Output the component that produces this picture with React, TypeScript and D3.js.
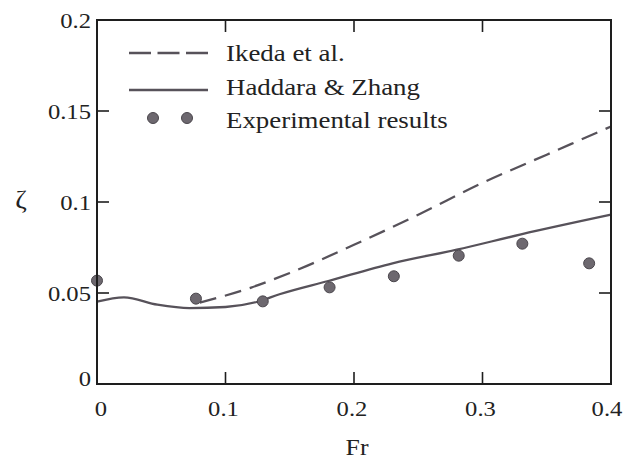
import React from "react";
import * as d3 from "d3";

const W = 636;
const H = 459;

const xTicks = [0, 0.1, 0.2, 0.3, 0.4];
const xTickLabels = ["0", "0.1", "0.2", "0.3", "0.4"];
const yTicks = [0, 0.05, 0.1, 0.15, 0.2];
const yTickLabels = ["0", "0.05", "0.1", "0.15", "0.2"];

const seriesNames = ["Ikeda et al.", "Haddara & Zhang", "Experimental results"];

const ikedaFr = [0.08, 0.12, 0.15, 0.2, 0.25, 0.3, 0.35, 0.4];
const ikedaZeta = [0.0447, 0.053, 0.061, 0.0765, 0.093, 0.1105, 0.126, 0.1415];

const haddaraFr = [0, 0.021, 0.047, 0.072, 0.1, 0.125, 0.142, 0.18, 0.23, 0.28, 0.33, 0.4];
const haddaraZeta = [0.0452, 0.0476, 0.0436, 0.0417, 0.0423, 0.0452, 0.0493, 0.0566, 0.0663, 0.0738, 0.0822, 0.093];

const expFr = [0, 0.077, 0.129, 0.181, 0.231, 0.2815, 0.331, 0.383];
const expZeta = [0.0568, 0.0469, 0.0454, 0.0531, 0.0592, 0.0705, 0.0771, 0.0663];

const FONT = "Liberation Serif";
const SX = 1.12;

function T({ x, y, size, anchor = "start", children, fill = "#222" }: any) {
  return (
    <text
      transform={`translate(${x},${y}) scale(${SX},1)`}
      textAnchor={anchor}
      style={{ fontFamily: FONT, fontSize: size + "px" }}
      fill={fill}
    >
      {children}
    </text>
  );
}

export default function App() {
  const left = 97, right = 611, top = 20, bottom = 384;
  const x = d3.scaleLinear().domain([0, 0.4]).range([left, right]);
  const y = d3.scaleLinear().domain([0, 0.2]).range([bottom, top]);

  const line = d3
    .line<[number, number]>()
    .x((d) => x(d[0]))
    .y((d) => y(d[1]))
    .curve(d3.curveMonotoneX);

  const ikeda: [number, number][] = ikedaFr.map((f, i) => [f, ikedaZeta[i]]);
  const haddara: [number, number][] = haddaraFr.map((f, i) => [f, haddaraZeta[i]]);
  const exp: [number, number][] = expFr.map((f, i) => [f, expZeta[i]]);

  const tickLen = 12;
  const axisColor = "#1e1e1e";
  const lineColor = "#57525a";
  const dotFill = "#6d686f";
  const dotStroke = "#4a464c";

  const innerX = xTicks.filter((t) => t > 0 && t < 0.4);
  const innerY = yTicks.filter((t) => t > 0 && t < 0.2);

  return (
    <svg
      width={W}
      height={H}
      style={{ position: "absolute", left: 0, top: 0, background: "#fff" }}
    >
      <rect x={0} y={0} width={W} height={H} fill="#fff" />

      <path d={line(haddara) || ""} fill="none" stroke={lineColor} strokeWidth={2.3} />
      <path
        d={line(ikeda) || ""}
        fill="none"
        stroke={lineColor}
        strokeWidth={2.3}
        strokeDasharray="17 9"
      />
      {exp.map((d, i) => (
        <circle
          key={i}
          cx={x(d[0])}
          cy={y(d[1])}
          r={5.5}
          fill={dotFill}
          stroke={dotStroke}
          strokeWidth={1}
        />
      ))}

      <rect
        x={left}
        y={top}
        width={right - left}
        height={bottom - top}
        fill="none"
        stroke={axisColor}
        strokeWidth={2}
      />
      {innerX.map((t) => (
        <g key={"xt" + t}>
          <line x1={x(t)} x2={x(t)} y1={bottom} y2={bottom - tickLen} stroke={axisColor} strokeWidth={1.6} />
          <line x1={x(t)} x2={x(t)} y1={top} y2={top + tickLen} stroke={axisColor} strokeWidth={1.6} />
        </g>
      ))}
      {innerY.map((t) => (
        <g key={"yt" + t}>
          <line x1={left} x2={left + tickLen} y1={y(t)} y2={y(t)} stroke={axisColor} strokeWidth={1.6} />
          <line x1={right} x2={right - tickLen} y1={y(t)} y2={y(t)} stroke={axisColor} strokeWidth={1.6} />
        </g>
      ))}

      {xTicks.map((t, i) => (
        <T key={"xl" + t} x={x(t) + (i === 0 ? 4 : i === 4 ? -4 : -2)} y={416} size={22} anchor="middle">
          {xTickLabels[i]}
        </T>
      ))}
      {yTicks.map((t, i) => (
        <T key={"yl" + t} x={91} y={y(t) + 7.5 - (i === 0 ? 6 : 0)} size={22} anchor="end">
          {yTickLabels[i]}
        </T>
      ))}

      <T x={357} y={455} size={23} anchor="middle">Fr</T>
      <T x={21} y={208} size={25} anchor="middle">ζ</T>

      <line x1={129} x2={208} y1={53} y2={53} stroke={lineColor} strokeWidth={2.3} strokeDasharray="22 6.5" />
      <line x1={129} x2={208} y1={90} y2={90} stroke={lineColor} strokeWidth={2.3} />
      <circle cx={153} cy={118} r={5.5} fill={dotFill} stroke={dotStroke} strokeWidth={1} />
      <circle cx={187} cy={118} r={5.5} fill={dotFill} stroke={dotStroke} strokeWidth={1} />
      <T x={226} y={61} size={24}>{seriesNames[0]}</T>
      <T x={226} y={95} size={24}>{seriesNames[1]}</T>
      <T x={226} y={128} size={24}>{seriesNames[2]}</T>
    </svg>
  );
}
